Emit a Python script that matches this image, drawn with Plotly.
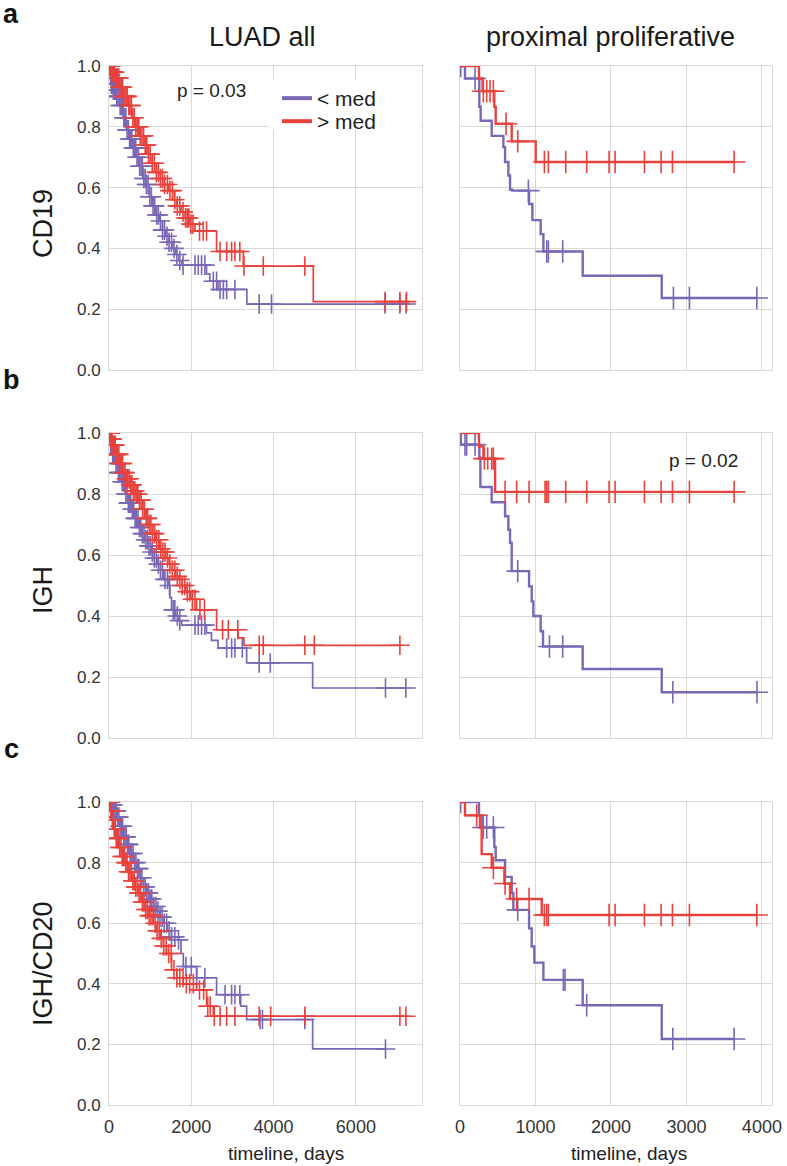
import numpy as np
import plotly.graph_objects as go

PURPLE = "#7a67b5"
RED = "#e9413c"
FONT = "Liberation Sans, Arial, sans-serif"
W, H = 787, 1166

# ---------------- data (Kaplan-Meier curves) ----------------
# Row a: CD19 ; LUAD all
a_all_lo_t = [0, 20, 50, 100, 180, 260, 340, 420, 500, 580, 660, 740, 820, 900, 980, 1060, 1140,
              1220, 1300, 1380, 1460, 1540, 1620, 1700, 1770, 2370, 2450, 2650, 3350]
a_all_lo_s = [1.0, 0.97, 0.94, 0.92, 0.90, 0.87, 0.83, 0.79, 0.76, 0.73, 0.70, 0.67, 0.63, 0.61, 0.57,
              0.54, 0.51, 0.49, 0.46, 0.44, 0.42, 0.40, 0.38, 0.36, 0.345, 0.316, 0.292, 0.265, 0.217]
a_all_lo_c = [15, 35, 55, 80, 105, 130, 160, 190, 215, 245, 270, 300, 330, 360, 385, 410, 440, 470, 500,
              525, 555, 590, 620, 650, 680, 715, 745, 780, 810, 845, 880, 910, 950, 990, 1030, 1070,
              1110, 1160, 1200, 1250, 1300, 1350, 1410, 1460, 1520, 1580, 1650, 1720, 1800, 2090, 2170,
              2250, 2330, 2535, 2615, 2700, 2780, 2860, 3060, 3650, 3950, 6710, 7070, 7220]
a_all_hi_t = [0, 60, 150, 250, 350, 450, 550, 650, 750, 850, 950, 1050, 1150, 1250, 1350, 1450, 1550,
              1650, 1750, 1850, 1950, 2090, 2615, 3265, 4965]
a_all_hi_s = [1.0, 0.98, 0.96, 0.93, 0.90, 0.87, 0.83, 0.80, 0.77, 0.74, 0.71, 0.68, 0.65, 0.63, 0.61,
              0.59, 0.56, 0.54, 0.52, 0.50, 0.48, 0.457, 0.39, 0.342, 0.225]
a_all_hi_c = [10, 25, 45, 65, 85, 110, 135, 160, 185, 210, 240, 270, 300, 330, 355, 385, 415, 445, 480,
              510, 545, 580, 615, 650, 690, 725, 760, 800, 840, 880, 920, 960, 1000, 1050, 1100, 1150,
              1200, 1250, 1300, 1350, 1420, 1480, 1540, 1600, 1660, 1720, 1800, 1860, 1900, 1940, 1990,
              2040, 2200, 2290, 2370, 2700, 2860, 2980, 3060, 3180, 3280, 3750, 4760, 6710, 7070, 7230]

# Row a: CD19 ; proximal proliferative
a_pp_lo_t = [0, 66, 256, 274, 420, 575, 597, 641, 663, 694, 915, 959, 1069, 1105, 1626, 2673]
a_pp_lo_s = [1.0, 0.959, 0.866, 0.82, 0.77, 0.733, 0.684, 0.64, 0.593, 0.59, 0.546, 0.493, 0.447,
             0.39, 0.31, 0.237]
a_pp_lo_c = [10, 199, 906, 1149, 1171, 1361, 2828, 3040, 3933]
a_pp_hi_t = [0, 252, 300, 455, 473, 685, 1003]
a_pp_hi_s = [1.0, 0.959, 0.917, 0.866, 0.81, 0.752, 0.684]
a_pp_hi_c = [309, 354, 398, 442, 610, 765, 1118, 1171, 1401, 1679, 1975, 2055, 2444, 2665, 2815, 3632]

# Row b: IGH ; LUAD all
b_all_lo_t = [0, 30, 80, 150, 230, 310, 390, 470, 550, 630, 710, 790, 870, 950, 1030, 1100, 1180,
              1250, 1330, 1440, 1480, 1520, 1620, 1700, 1765, 2370, 2490, 2650, 3345, 4950]
b_all_lo_s = [1.0, 0.96, 0.93, 0.90, 0.87, 0.84, 0.80, 0.77, 0.75, 0.72, 0.69, 0.67, 0.65, 0.63, 0.61,
              0.59, 0.57, 0.55, 0.52, 0.50, 0.46, 0.42, 0.40, 0.385, 0.37, 0.345, 0.32, 0.295, 0.246,
              0.164]
b_all_lo_c = [20, 40, 65, 90, 115, 140, 170, 200, 230, 260, 290, 320, 350, 380, 410, 440, 470, 500, 530,
              565, 600, 635, 670, 705, 740, 775, 810, 850, 890, 930, 970, 1010, 1050, 1100, 1150, 1200,
              1250, 1300, 1360, 1420, 1470, 1560, 1600, 1660, 1720, 2090, 2170, 2250, 2330, 2860,
              2980, 3060, 3240, 3650, 3920, 6720, 7215]
b_all_hi_t = [0, 40, 100, 180, 260, 340, 420, 500, 580, 660, 740, 820, 900, 980, 1060, 1140, 1220, 1300,
              1380, 1460, 1540, 1620, 1700, 1780, 1860, 1990, 2130, 2615, 3140, 3280]
b_all_hi_s = [1.0, 0.98, 0.96, 0.93, 0.90, 0.87, 0.85, 0.83, 0.81, 0.80, 0.78, 0.75, 0.72, 0.70, 0.67,
              0.65, 0.62, 0.61, 0.59, 0.57, 0.55, 0.53, 0.52, 0.50, 0.48, 0.455, 0.42, 0.355, 0.328,
              0.304]
b_all_hi_c = [10, 30, 50, 75, 100, 125, 150, 180, 210, 240, 270, 300, 330, 360, 390, 420, 455, 490, 525,
              560, 595, 630, 665, 700, 740, 780, 820, 860, 900, 940, 980, 1020, 1060, 1110, 1160, 1210,
              1260, 1310, 1360, 1420, 1480, 1540, 1600, 1660, 1720, 1780, 1840, 1900, 1960, 2030, 2090,
              2210, 2320, 2760, 2900, 3130, 3650, 3750, 4760, 4990, 7070]

# Row b: IGH ; proximal proliferative
b_pp_lo_t = [0, 10, 256, 270, 420, 597, 641, 663, 685, 915, 950, 972, 1069, 1100, 1625, 2673]
b_pp_lo_s = [1.0, 0.962, 0.92, 0.823, 0.773, 0.727, 0.683, 0.64, 0.547, 0.497, 0.448, 0.40, 0.35, 0.30,
             0.226, 0.15]
b_pp_lo_c = [66, 88, 199, 765, 1185, 1361, 2820, 3935]
b_pp_hi_t = [0, 252, 310, 465]
b_pp_hi_s = [1.0, 0.956, 0.916, 0.807]
b_pp_hi_c = [323, 367, 420, 442, 597, 751, 915, 1127, 1149, 1171, 1401, 1679, 1975, 2055, 2444, 2665,
             2815, 3040, 3632]

# Row c: IGH/CD20 ; LUAD all
c_all_lo_t = [0, 60, 120, 190, 270, 350, 430, 510, 600, 680, 760, 840, 920, 1000, 1080, 1160, 1240,
              1320, 1420, 1520, 1685, 1750, 1806, 2130, 2615, 3200, 3345, 4950]
c_all_lo_s = [1.0, 0.99, 0.97, 0.95, 0.92, 0.885, 0.86, 0.83, 0.80, 0.78, 0.75, 0.72, 0.70, 0.68, 0.655,
              0.64, 0.62, 0.60, 0.575, 0.555, 0.545, 0.50, 0.457, 0.42, 0.364, 0.326, 0.282, 0.185]
c_all_lo_c = [20, 45, 70, 95, 120, 150, 180, 210, 240, 270, 300, 330, 360, 390, 420, 450, 480, 515, 550,
              585, 620, 655, 690, 725, 760, 800, 840, 880, 920, 960, 1000, 1040, 1090, 1140, 1190, 1240,
              1290, 1340, 1400, 1460, 1520, 1600, 1690, 1870, 2000, 2130, 2330, 2820, 2980, 3060, 3180,
              3670, 3730, 4760, 6720]
c_all_hi_t = [0, 30, 70, 110, 170, 240, 320, 390, 470, 550, 630, 713, 800, 880, 960, 1077, 1160, 1240,
              1320, 1400, 1520, 1650, 1806, 2130, 2373, 2535]
c_all_hi_s = [1.0, 0.97, 0.94, 0.91, 0.88, 0.85, 0.82, 0.80, 0.77, 0.74, 0.72, 0.70, 0.67, 0.645, 0.625,
              0.60, 0.575, 0.55, 0.525, 0.50, 0.446, 0.42, 0.40, 0.38, 0.326, 0.293]
c_all_hi_c = [10, 25, 40, 60, 80, 100, 125, 150, 175, 200, 230, 260, 290, 320, 350, 380, 410, 440, 475,
              510, 545, 580, 615, 650, 690, 730, 770, 810, 850, 890, 930, 975, 1020, 1070, 1120, 1170,
              1220, 1270, 1330, 1390, 1450, 1510, 1580, 1650, 1720, 1800, 1880, 1960, 2050, 2200, 2300,
              2400, 2460, 2560, 2700, 2860, 3060, 3650, 3930, 4760, 7070, 7215]

# Row c: IGH/CD20 ; proximal proliferative
c_pp_lo_t = [0, 252, 296, 455, 473, 597, 685, 707, 915, 950, 985, 1105, 1626, 2673]
c_pp_lo_s = [1.0, 0.956, 0.916, 0.852, 0.808, 0.753, 0.70, 0.644, 0.583, 0.523, 0.47, 0.413, 0.329,
             0.218]
c_pp_lo_c = [9, 309, 354, 442, 765, 1370, 1392, 1679, 2820, 3632]
c_pp_hi_t = [0, 66, 265, 287, 420, 588, 663, 1083]
c_pp_hi_s = [1.0, 0.956, 0.916, 0.828, 0.783, 0.731, 0.68, 0.627]
c_pp_hi_c = [221, 442, 597, 751, 915, 1118, 1149, 1171, 1975, 2055, 2444, 2665, 2815, 3040, 3933]

row_labels = ["CD19", "IGH", "IGH/CD20"]
row_letters = ["a", "b", "c"]
col_titles = ["LUAD all", "proximal proliferative"]
group_names = ["< med", "> med"]
p_values = ["p = 0.03", "p = 0.02"]

y_ticks = [0.0, 0.2, 0.4, 0.6, 0.8, 1.0]
x_ticks_all = [0, 2000, 4000, 6000]
x_ticks_pp = [0, 1000, 2000, 3000, 4000]
x_title = "timeline, days"

panels = [
    (1, (a_all_lo_t, a_all_lo_s, a_all_lo_c), (a_all_hi_t, a_all_hi_s, a_all_hi_c), True),
    (2, (a_pp_lo_t, a_pp_lo_s, a_pp_lo_c), (a_pp_hi_t, a_pp_hi_s, a_pp_hi_c), False),
    (3, (b_all_lo_t, b_all_lo_s, b_all_lo_c), (b_all_hi_t, b_all_hi_s, b_all_hi_c), True),
    (4, (b_pp_lo_t, b_pp_lo_s, b_pp_lo_c), (b_pp_hi_t, b_pp_hi_s, b_pp_hi_c), False),
    (5, (c_all_lo_t, c_all_lo_s, c_all_lo_c), (c_all_hi_t, c_all_hi_s, c_all_hi_c), True),
    (6, (c_pp_lo_t, c_pp_lo_s, c_pp_lo_c), (c_pp_hi_t, c_pp_hi_s, c_pp_hi_c), False),
]


def step_at(t, s, x):
    t = np.asarray(t, dtype=float)
    s = np.asarray(s, dtype=float)
    idx = np.searchsorted(t, np.asarray(x, dtype=float), side="right") - 1
    return s[np.clip(idx, 0, len(s) - 1)]


fig = go.Figure()


def add_curve(t, s, c, color, ax, left):
    xa = "x" if ax == 1 else f"x{ax}"
    ya = "y" if ax == 1 else f"y{ax}"
    end = max(max(c), t[-1])
    xs = list(t) + [end]
    ys = list(s) + [s[-1]]
    lw = 1.7 if left else 2.4
    ms = 14 if left else 16
    fig.add_trace(go.Scatter(x=xs, y=ys, mode="lines", line=dict(color=color, width=lw, shape="hv"),
                             xaxis=xa, yaxis=ya, showlegend=False, hoverinfo="skip"))
    fig.add_trace(go.Scatter(x=c, y=step_at(t, s, c), mode="markers",
                             marker=dict(symbol="cross-thin", size=ms, color=color,
                                         line=dict(color=color, width=1.6)),
                             xaxis=xa, yaxis=ya, showlegend=False, hoverinfo="skip"))


for ax, lo, hi, left in panels:
    add_curve(*lo, PURPLE, ax, left)
    add_curve(*hi, RED, ax, left)

# legend entries (two separate legends to match the tight row spacing)
fig.add_trace(go.Scatter(x=[None], y=[None], mode="lines", name=group_names[0],
                         line=dict(color=PURPLE, width=4), legend="legend"))
fig.add_trace(go.Scatter(x=[None], y=[None], mode="lines", name=group_names[1],
                         line=dict(color=RED, width=4), legend="legend2"))


def px_x(p):
    return p / W


def px_y(p):
    return 1 - p / H


col_dom = [[px_x(109), px_x(421.7)], [px_x(460), px_x(771.7)]]
row_dom = [[px_y(370), px_y(66)], [px_y(738), px_y(433)], [px_y(1105), px_y(802)]]

GRID = "#d9d9d9"
layout = dict(width=W, height=H, margin=dict(l=0, r=0, t=0, b=0, pad=0, autoexpand=False),
              plot_bgcolor="white", paper_bgcolor="white",
              font=dict(family=FONT, color="#333333"))

for i in range(6):
    ax = i + 1
    r, col = divmod(i, 2)
    xk = "xaxis" if ax == 1 else f"xaxis{ax}"
    yk = "yaxis" if ax == 1 else f"yaxis{ax}"
    xa = "x" if ax == 1 else f"x{ax}"
    ya = "y" if ax == 1 else f"y{ax}"
    ticks = x_ticks_all if col == 0 else x_ticks_pp
    layout[xk] = dict(domain=col_dom[col], anchor=ya, range=[0, 7600 if col == 0 else 4130],
                      tickvals=ticks, ticktext=[str(v) for v in ticks],
                      showticklabels=(r == 2), showgrid=True, gridcolor=GRID, gridwidth=1,
                      showline=True, linecolor=GRID, linewidth=1, mirror=True, zeroline=False,
                      ticks="", ticklabelstandoff=5, automargin=False,
                      tickfont=dict(size=18, family=FONT, color="#333333"))
    layout[yk] = dict(domain=row_dom[r], anchor=xa, range=[0, 1],
                      tickvals=y_ticks, ticktext=[f"{v:.1f}" for v in y_ticks],
                      showticklabels=(col == 0), showgrid=True, gridcolor=GRID, gridwidth=1,
                      showline=True, linecolor=GRID, linewidth=1, mirror=True, zeroline=False,
                      ticks="", ticklabelstandoff=4, automargin=False,
                      tickfont=dict(size=17, family=FONT, color="#333333"))

layout["legend"] = dict(x=px_x(277), y=px_y(78), xanchor="left", yanchor="top",
                        bgcolor="rgba(0,0,0,0)", font=dict(size=21, family=FONT, color="#222222"),
                        borderwidth=0)
layout["legend2"] = dict(x=px_x(277), y=px_y(101), xanchor="left", yanchor="top",
                         bgcolor="rgba(0,0,0,0)", font=dict(size=21, family=FONT, color="#222222"),
                         borderwidth=0)

# white box behind the legend (hides gridlines like the original)
layout["shapes"] = [dict(type="rect", xref="x", yref="y", x0=3880, x1=7570, y0=0.79, y1=0.955,
                         fillcolor="white", line=dict(width=0), layer="between")]


def label(text, xc, yc, size, color="#1a1a1a", angle=0):
    return dict(text=text, x=px_x(xc), y=px_y(yc), xref="paper", yref="paper",
                xanchor="center", yanchor="middle", textangle=angle, showarrow=False,
                font=dict(size=size, family=FONT, color=color))


ann = [label(col_titles[0], 262, 37, 27), label(col_titles[1], 610, 37, 27)]
for lbl, yc in zip(row_labels, [224, 590, 964]):
    ann.append(label(lbl, 43, yc, 27, angle=-90))
for let, yc in zip(row_letters, [14, 380, 749]):
    ann.append(label(f"<b>{let}</b>", 11, yc, 27, color="#111111"))
ann.append(label(p_values[0], 212, 91, 19, color="#222222"))
ann.append(label(p_values[1], 703, 460, 19, color="#222222"))
for xc in [286, 629]:
    ann.append(label(x_title, xc, 1153, 19, color="#222222"))
layout["annotations"] = ann

fig.update_layout(**layout)
fig.write_html("out.html", post_script="document.body.style.margin='0px';",
               config={"displayModeBar": False})
